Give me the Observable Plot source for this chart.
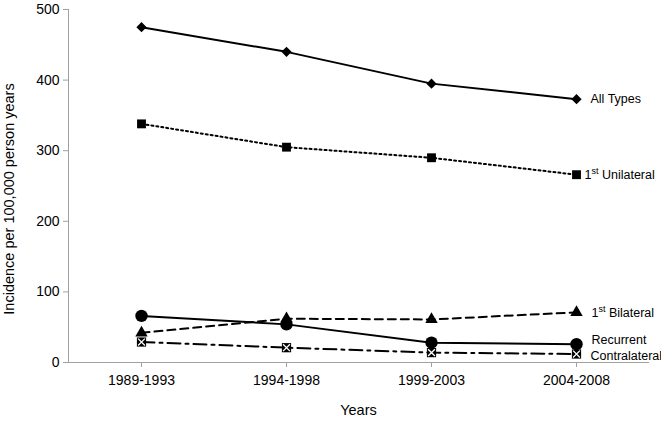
<!DOCTYPE html>
<html>
<head>
<meta charset="utf-8">
<script src="https://cdn.jsdelivr.net/npm/d3@7"></script>
<script src="https://cdn.jsdelivr.net/npm/@observablehq/plot@0.6"></script>
<style>
  html, body { margin: 0; padding: 0; background: #fff; }
  svg { overflow: visible; }
</style>
</head>
<body>
<div id="chart"></div>
<script>
// ---- data ----
const periods = ["1989-1993", "1994-1998", "1999-2003", "2004-2008"];
const seriesNames = ["All Types", "1st Unilateral", "1st Bilateral", "Recurrent", "Contralateral"];
const allTypes = [475, 440, 395, 373];
const unilateral = [338, 305, 290, 266];
const bilateral = [42, 62, 61, 71];
const recurrent = [66, 54, 28, 26];
const contralateral = [29, 21, 14, 12];
const yTicks = [0, 100, 200, 300, 400, 500];

const seriesValues = [allTypes, unilateral, bilateral, recurrent, contralateral];

// ---- styles ----
const styles = [
  {dash: null, symbol: "diamond2", r: 4.6, labelDx: 14, labelDy: 0},
  {dash: "2,3", symbol: "square", r: 5.0, labelDx: 8, labelDy: 0},
  {dash: "8,5", symbol: "triangle", r: 4.6, labelDx: 15, labelDy: 1},
  {dash: null, symbol: "circle", r: 6.2, labelDx: 15, labelDy: -4},
  {dash: "13,5,3,5", symbol: "square", r: 5.2, labelDx: 14, labelDy: 2}
];

const rows = seriesNames.map((name, s) => periods.map((p, i) => ({series: name, period: p, value: seriesValues[s][i]})));

const marks = [];
rows.forEach((data, s) => {
  marks.push(Plot.line(data, {x: "period", y: "value", stroke: "black", strokeWidth: 2,
    strokeDasharray: styles[s].dash || undefined}));
});
rows.forEach((data, s) => {
  marks.push(Plot.dot(data, {x: "period", y: "value", symbol: () => styles[s].symbol,
    r: styles[s].r, fill: "black", stroke: "none"}));
});
// white X inside contralateral squares
marks.push(Plot.dot(rows[4], {x: "period", y: "value", symbol: () => "times", r: 3.2,
  stroke: "white", strokeWidth: 1.3, fill: "none"}));
// series labels at last point
rows.forEach((data, s) => {
  marks.push(Plot.text([data[data.length - 1]], {x: "period", y: "value", text: "series",
    textAnchor: "start", dx: styles[s].labelDx, dy: styles[s].labelDy, fontSize: 12.5, fill: "black",
    className: "series-label"}));
});
// axis titles
marks.push(Plot.text(["Incidence per 100,000 person years"], {frameAnchor: "left", textAnchor: "middle", rotate: -90,
  dx: -59, dy: 13, fontSize: 14.5, fill: "black"}));
marks.push(Plot.text(["Years"], {frameAnchor: "bottom", dy: 52, fontSize: 14.5, fill: "black"}));

const chart = Plot.plot({
  width: 661,
  height: 422,
  marginLeft: 68,
  marginRight: 13,
  marginTop: 9,
  marginBottom: 60,
  style: {fontFamily: "'Liberation Sans', Arial, sans-serif", fontSize: "14px", color: "#a0a0a0", background: "white"},
  x: {type: "point", domain: periods, padding: 0.5, line: true, label: null, tickSize: 5, tickPadding: 8},
  y: {domain: [0, 500], ticks: yTicks, line: true, label: null, tickSize: 5, tickPadding: 4},
  marks
});
document.getElementById("chart").appendChild(chart);

const svg = d3.select(chart);
svg.selectAll('g[aria-label$="tick label"] text, g[aria-label$="tick label"]').attr("fill", "black");
// superscript ordinal suffixes
svg.selectAll("g.series-label text").each(function() {
  const t = d3.select(this);
  const txt = t.text();
  const m = txt.match(/^(\d+)(st|nd|rd|th) (.*)$/);
  if (!m) return;
  t.text(null);
  t.append("tspan").text(m[1]);
  t.append("tspan").attr("font-size", 9).attr("dy", -5).text(m[2]);
  t.append("tspan").attr("dy", 5).text(" " + m[3]);
});
</script>
</body>
</html>
